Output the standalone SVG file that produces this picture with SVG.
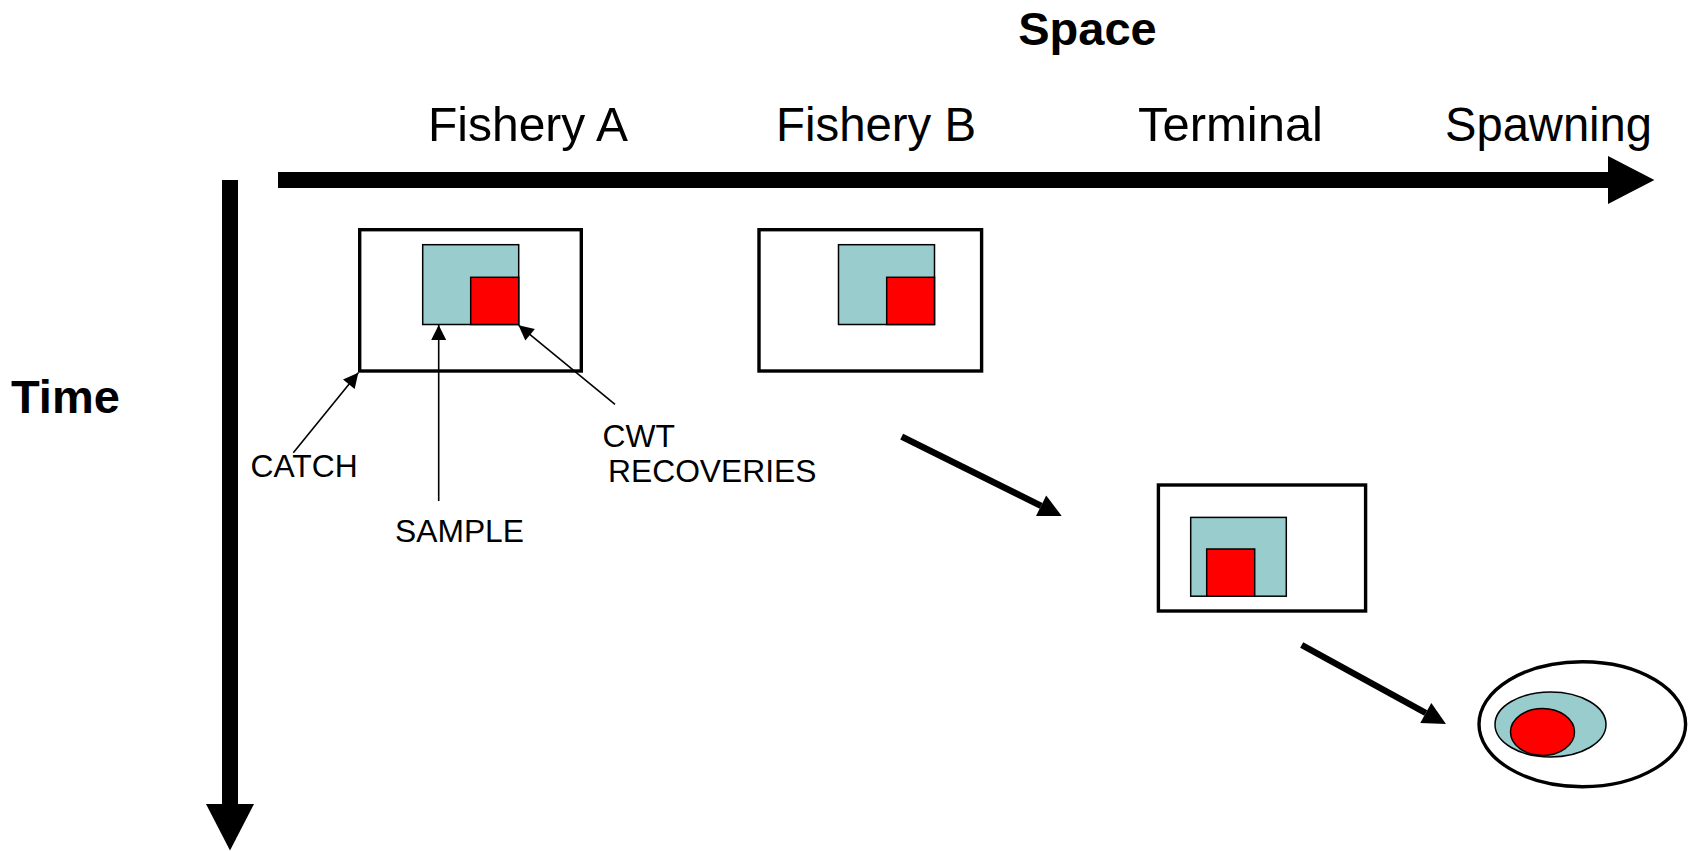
<svg xmlns="http://www.w3.org/2000/svg" width="1692" height="851" viewBox="0 0 1692 851">
<style>
.title{font-family:"Liberation Sans",Arial,sans-serif;font-weight:bold;font-size:47px;fill:#000}
.lab{font-family:"Liberation Sans",Arial,sans-serif;font-size:48.5px;fill:#000}
.small{font-family:"Liberation Sans",Arial,sans-serif;font-size:31.8px;fill:#000}
.outer{fill:#fff;stroke:#000;stroke-width:3.4}
.teal{fill:#99CCCC;stroke:#000;stroke-width:1.5}
.red{fill:#FF0000;stroke:#000;stroke-width:1.5}
.axis{stroke:#000;stroke-width:16;fill:none;marker-end:url(#axisHead)}
.flow{stroke:#000;stroke-width:6.5;fill:none;marker-end:url(#flowHead)}
.call{stroke:#000;stroke-width:1.6;fill:none;marker-end:url(#callHead)}
</style>
<defs>
<marker id="axisHead" markerUnits="strokeWidth" viewBox="0 0 2.9 3" refX="0" refY="1.5" markerWidth="2.9" markerHeight="3" orient="auto" overflow="visible">
<path d="M0,0 L2.9,1.5 L0,3 z" fill="#000"/>
</marker>
<marker id="flowHead" markerUnits="userSpaceOnUse" viewBox="0 0 23 23" refX="0" refY="11.5" markerWidth="23" markerHeight="23" orient="auto" overflow="visible">
<path d="M0,0 L23,11.5 L0,23 z" fill="#000"/>
</marker>
<marker id="callHead" markerUnits="userSpaceOnUse" viewBox="0 0 15 15" refX="15" refY="7.5" markerWidth="15" markerHeight="15" orient="auto" overflow="visible">
<path d="M0,0 L15,7.5 L0,15 z" fill="#000"/>
</marker>
</defs>
<rect width="1692" height="851" fill="#fff"/>

<g id="labels">
<text class="title" x="1087.5" y="45" text-anchor="middle">Space</text>
<text class="title" x="11" y="413">Time</text>
<text class="lab" x="428" y="141" textLength="200" lengthAdjust="spacingAndGlyphs">Fishery A</text>
<text class="lab" x="776" y="141" textLength="200" lengthAdjust="spacingAndGlyphs">Fishery B</text>
<text class="lab" x="1138" y="141" textLength="185" lengthAdjust="spacingAndGlyphs">Terminal</text>
<text class="lab" x="1445" y="141" textLength="207" lengthAdjust="spacingAndGlyphs">Spawning</text>
</g>

<g id="fisheryA">
<rect class="outer" x="359.7" y="229.7" width="221.6" height="141.3"/>
<rect class="teal" x="422.7" y="244.7" width="96" height="79.8"/>
<rect class="red" x="470.7" y="277.3" width="48" height="47.2"/>
</g>

<g id="fisheryB">
<rect class="outer" x="759" y="229.7" width="222.6" height="141.3"/>
<rect class="teal" x="838.5" y="244.7" width="96" height="79.8"/>
<rect class="red" x="886.7" y="277.3" width="47.8" height="47.2"/>
</g>

<g id="terminal">
<rect class="outer" x="1158.4" y="485" width="207.2" height="126"/>
<rect class="teal" x="1190.7" y="517.4" width="95.6" height="78.8"/>
<rect class="red" x="1206.7" y="549" width="48" height="47.2"/>
</g>

<g id="spawning">
<ellipse class="outer" cx="1582.3" cy="724.2" rx="103.3" ry="62.5"/>
<ellipse class="teal" cx="1550.5" cy="724.5" rx="55.5" ry="32.5"/>
<ellipse class="red" cx="1542.5" cy="732" rx="32" ry="23.5"/>
</g>

<g id="callout-labels">
<text class="small" x="250.5" y="476.7">CATCH</text>
<text class="small" x="395" y="541.7">SAMPLE</text>
<text class="small" x="602.5" y="446.7">CWT</text>
<text class="small" x="608" y="481.7">RECOVERIES</text>
</g>

<g id="connectors">
<line class="axis" x1="278" y1="180" x2="1608" y2="180"/>
<line class="axis" x1="230" y1="180" x2="230" y2="804"/>
<line class="flow" x1="901.7" y1="436.7" x2="1041.1" y2="505.8"/>
<line class="flow" x1="1301.7" y1="645" x2="1425.8" y2="713"/>
<line class="call" x1="293.3" y1="452.7" x2="358.3" y2="372.7"/>
<line class="call" x1="438.7" y1="501" x2="438.7" y2="325"/>
<line class="call" x1="615" y1="404.3" x2="518.5" y2="325.2"/>
</g>
</svg>
